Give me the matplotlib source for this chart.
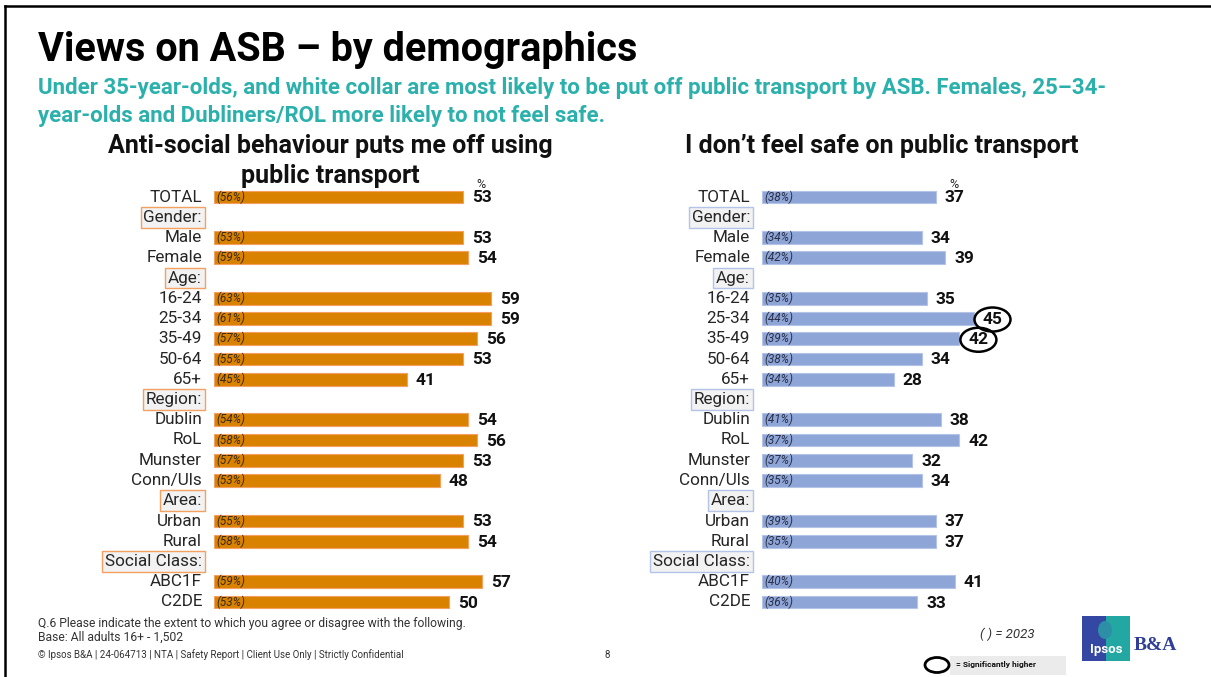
import matplotlib
matplotlib.use("Agg")
import matplotlib.pyplot as plt
from matplotlib.patches import Ellipse, Rectangle
from matplotlib.lines import Line2D

plt.rcParams['font.family'] = ['Roboto', 'DejaVu Sans']

# ---------------- data ----------------
categories = ["TOTAL", "Male", "Female", "16-24", "25-34", "35-49", "50-64", "65+",
              "Dublin", "RoL", "Munster", "Conn/Uls", "Urban", "Rural", "ABC1F", "C2DE"]
# group header shown before the category with the given index
group_headers = {1: "Gender:", 3: "Age:", 8: "Region:", 12: "Area:", 14: "Social Class:"}

put_off_2024 = [53, 53, 54, 59, 59, 56, 53, 41, 54, 56, 53, 48, 53, 54, 57, 50]
put_off_2023 = [56, 53, 59, 63, 61, 57, 55, 45, 54, 58, 57, 53, 55, 58, 59, 53]
unsafe_2024 = [37, 34, 39, 35, 45, 42, 34, 28, 38, 42, 32, 34, 37, 37, 41, 33]
unsafe_2023 = [38, 34, 42, 35, 44, 39, 38, 34, 41, 37, 37, 35, 39, 35, 40, 36]
unsafe_significant = ["25-34", "35-49"]
put_off_significant = []

W, H = 1211, 677
fig = plt.figure(figsize=(W / 100, H / 100), dpi=100)
fig.patch.set_facecolor("white")


def fx(px):
    return px / W


def fy(py):
    return 1 - py / H


ORANGE = "#D98200"
ORANGE_EDGE = "#F4A060"
BLUE = "#8EA5D7"
BLUE_EDGE = "#B4C4E8"
TEAL = "#2BB0AC"

# row layout: headers interleaved with categories
rows = []
for i, c in enumerate(categories):
    if i in group_headers:
        rows.append(("header", group_headers[i]))
    rows.append(("cat", c))
n_rows = len(rows)
cat_pos = [k for k, (kind, _) in enumerate(rows) if kind == "cat"]
head_pos = [(k, t) for k, (kind, t) in enumerate(rows) if kind == "header"]

ROW_PX = 20.25
FIRST_ROW_PX = 197
PX_PER_UNIT = 4.7
AX_W_PX = 346
top_px = FIRST_ROW_PX - ROW_PX / 2
bot_px = top_px + ROW_PX * n_rows


def panel(x0_px, values, prior, significant, color, edge, head_edge, prior_color):
    ax = fig.add_axes([fx(x0_px), fy(bot_px), AX_W_PX / W, (bot_px - top_px) / H])
    ax.set_xlim(0, AX_W_PX / PX_PER_UNIT)
    ax.set_ylim(n_rows - 0.5, -0.5)
    ax.axis("off")
    ax.barh(cat_pos, values, height=0.64, color=color, edgecolor=edge, linewidth=0.8)
    for y, c, v, p in zip(cat_pos, categories, values, prior):
        ax.annotate(c, xy=(0, y), xytext=(-12, 0), textcoords="offset pixels",
                    ha="right", va="center", fontsize=12.3, color="#262626",
                    annotation_clip=False)
        ax.annotate(f"({p}%)", xy=(0, y), xytext=(2, 0), textcoords="offset pixels",
                    ha="left", va="center", fontsize=8.5, style="italic",
                    color=prior_color)
        ax.annotate(str(v), xy=(v, y), xytext=(9, -1), textcoords="offset pixels",
                    ha="left", va="center", fontsize=12.5, fontweight="bold",
                    color="#111111", annotation_clip=False)
        if c in significant:
            ax.add_patch(Ellipse((v + 19 / PX_PER_UNIT, y + 0.05),
                                 36 / PX_PER_UNIT, 24 / ROW_PX,
                                 fill=False, edgecolor="black", linewidth=1.8,
                                 clip_on=False))
    for y, t in head_pos:
        ax.annotate(t, xy=(0, y), xytext=(-12, 0), textcoords="offset pixels",
                    ha="right", va="center", fontsize=12.3, color="#262626",
                    annotation_clip=False,
                    bbox=dict(boxstyle="square,pad=0.17", facecolor="#F2F2F2",
                              edgecolor=head_edge, linewidth=1.0))
    ax.annotate("%", xy=(values[0], 0), xytext=(18, 12), textcoords="offset pixels",
                ha="center", va="center", fontsize=9, color="#222222",
                annotation_clip=False)
    return ax


panel(214, put_off_2024, put_off_2023, put_off_significant, ORANGE, ORANGE_EDGE,
      ORANGE_EDGE, "#3A2A10")
panel(762, unsafe_2024, unsafe_2023, unsafe_significant, BLUE, BLUE_EDGE,
      BLUE_EDGE, "#2A2F45")

# ---------------- titles ----------------
fig.text(fx(38), fy(50), "Views on ASB \u2013 by demographics", fontsize=28.5,
         fontweight="bold", color="black", ha="left", va="center")
fig.text(fx(38), fy(88),
         "Under 35-year-olds, and white collar are most likely to be put off public "
         "transport by ASB. Females, 25\u201334-",
         fontsize=16, fontweight="bold", color=TEAL, ha="left", va="center")
fig.text(fx(38), fy(116), "year-olds and Dubliners/ROL more likely to not feel safe.",
         fontsize=16, fontweight="bold", color=TEAL, ha="left", va="center")
fig.text(fx(330), fy(146), "Anti-social behaviour puts me off using", fontsize=18,
         fontweight="bold", color="#111111", ha="center", va="center")
fig.text(fx(330), fy(176), "public transport", fontsize=18,
         fontweight="bold", color="#111111", ha="center", va="center")
fig.text(fx(882), fy(146), "I don\u2019t feel safe on public transport", fontsize=18,
         fontweight="bold", color="#111111", ha="center", va="center")

# ---------------- footer ----------------
fig.text(fx(38), fy(623),
         "Q.6 Please indicate the extent to which you agree or disagree with the following.",
         fontsize=8.7, color="#333333", ha="left", va="center")
fig.text(fx(38), fy(637), "Base: All adults 16+ - 1,502", fontsize=8.7,
         color="#333333", ha="left", va="center")
fig.text(fx(38), fy(655),
         "\u00a9 Ipsos B&A | 24-064713 | NTA | Safety Report | Client Use Only | "
         "Strictly Confidential",
         fontsize=7, color="#333333", ha="left", va="center")
fig.text(fx(607), fy(655), "8", fontsize=7, color="#333333", ha="center", va="center")
fig.text(fx(1007), fy(634), "( ) = 2023", fontsize=9.5, style="italic",
         color="#333333", ha="center", va="center")

# significance key
fig.add_artist(Rectangle((fx(950), fy(675)), 116 / W, 19 / H,
                         transform=fig.transFigure, facecolor="#EBEBEB",
                         edgecolor="none"))
fig.add_artist(Ellipse((fx(937), fy(665)), 24 / W, 15 / H,
                       transform=fig.transFigure, fill=False,
                       edgecolor="black", linewidth=2.0))
fig.text(fx(956), fy(665), "= Significantly higher", fontsize=6,
         fontweight="bold", color="#111111", ha="left", va="center")

# logo
fig.add_artist(Rectangle((fx(1082), fy(661)), 24 / W, 45 / H,
                         transform=fig.transFigure, facecolor="#3447A3",
                         edgecolor="none"))
fig.add_artist(Rectangle((fx(1106), fy(661)), 24 / W, 45 / H,
                         transform=fig.transFigure, facecolor="#22A7A2",
                         edgecolor="none"))
fig.add_artist(Ellipse((fx(1105), fy(630)), 14 / W, 18 / H,
                       transform=fig.transFigure, facecolor="#2C8FA6",
                       edgecolor="none"))
fig.text(fx(1106), fy(650), "Ipsos", fontsize=9.5, fontweight="bold",
         color="white", ha="center", va="center")
fig.text(fx(1155), fy(646), "B&A", fontsize=14, fontweight="bold",
         family=["Liberation Serif", "DejaVu Serif"], color="#2F3F99",
         ha="center", va="center")

# slide frame
fig.add_artist(Line2D([fx(5), 1], [fy(6), fy(6)], transform=fig.transFigure,
                      color="black", linewidth=1.8))
fig.add_artist(Line2D([fx(5), fx(5)], [fy(6), 0], transform=fig.transFigure,
                      color="black", linewidth=1.8))

fig.savefig("out.png", dpi=100, facecolor="white")
